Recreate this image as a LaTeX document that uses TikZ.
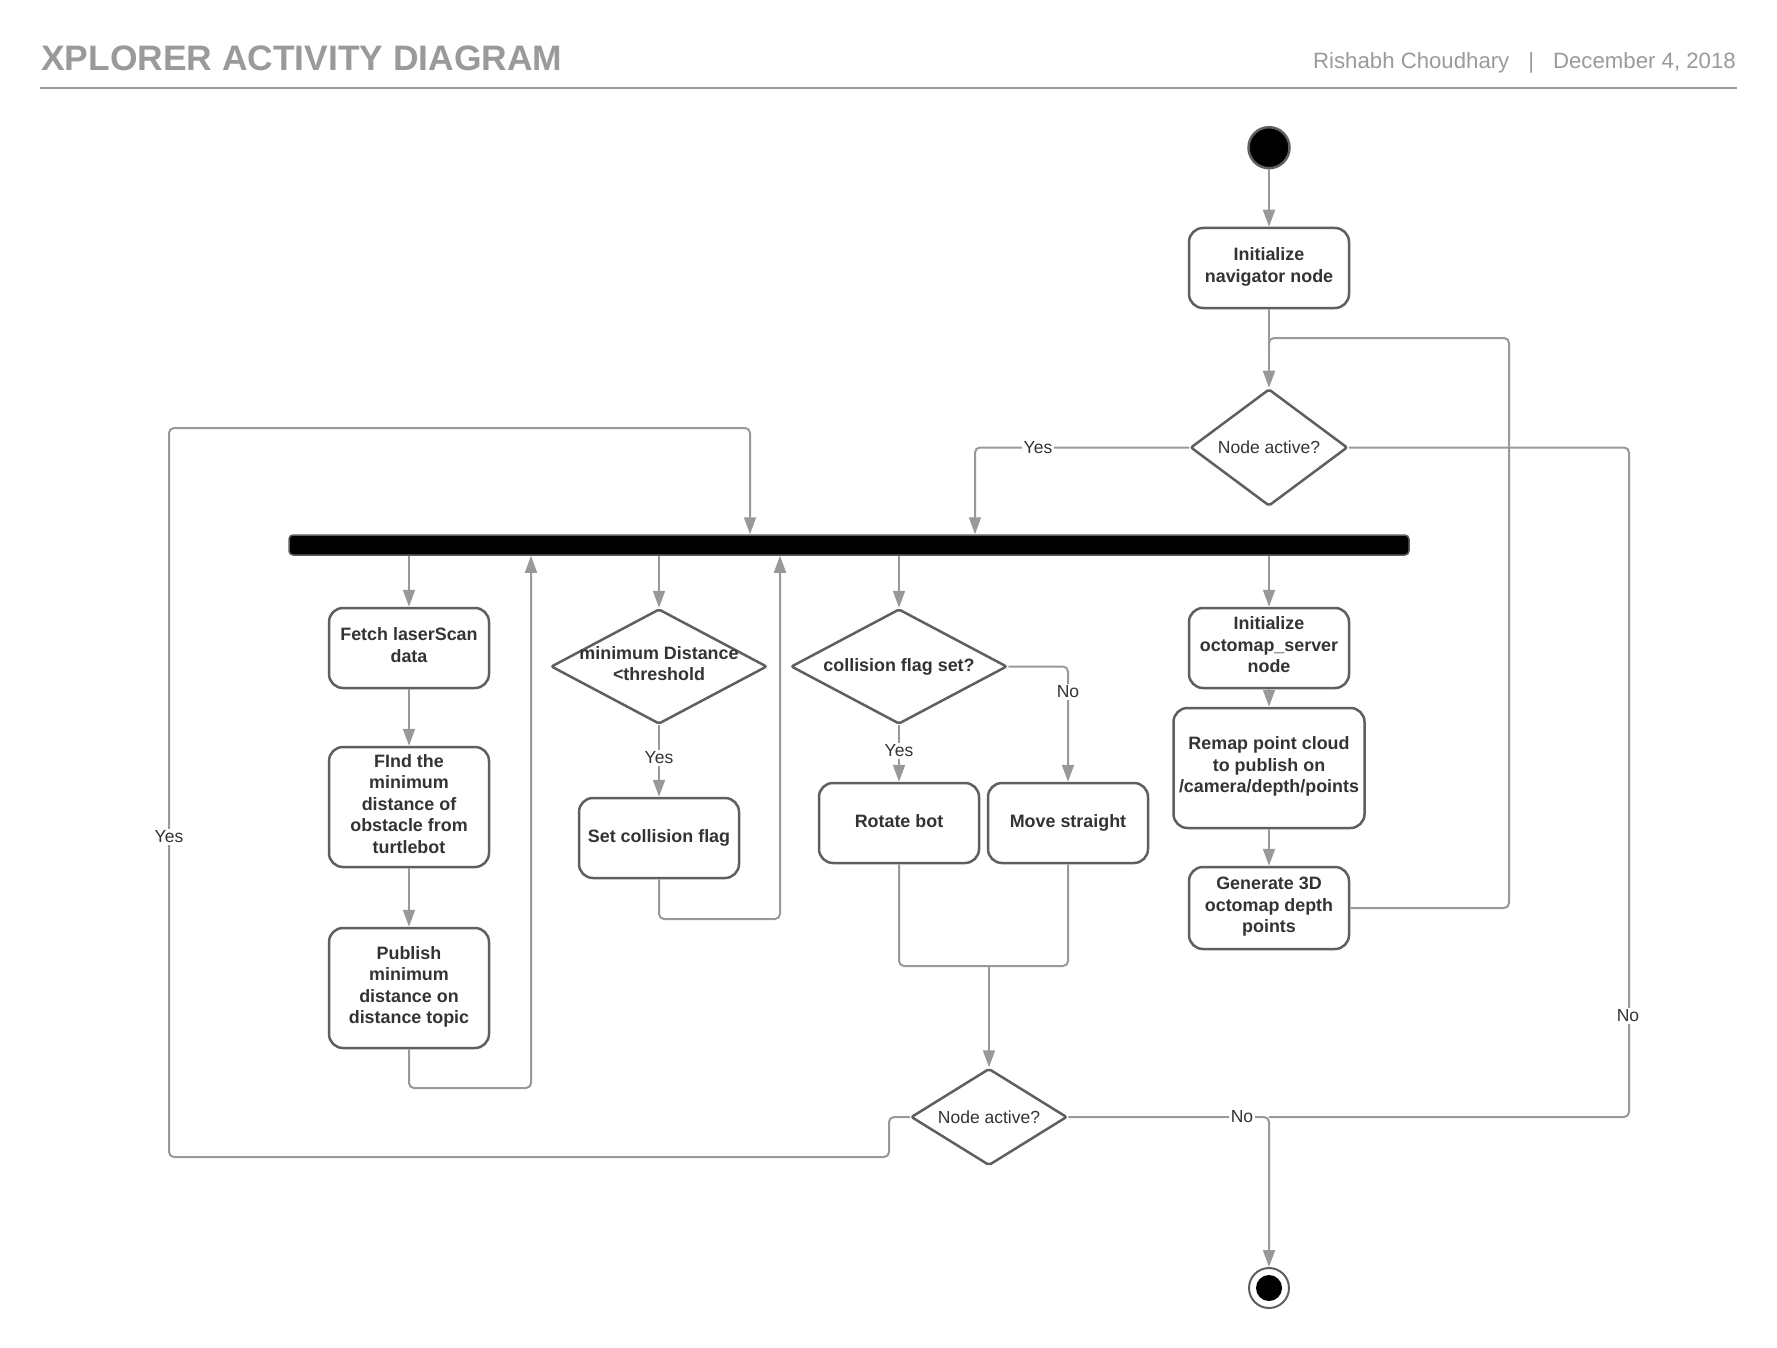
\documentclass[tikz,border=0pt]{standalone}
\usepackage{fontspec}
\setmainfont{Liberation Sans}
\usetikzlibrary{shapes.geometric,arrows.meta}
\definecolor{linegray}{HTML}{999999}
\definecolor{boxgray}{HTML}{5F5F5F}
\definecolor{txtgray}{HTML}{333333}
\definecolor{headgray}{HTML}{9A9A9A}
\begin{document}
\begin{tikzpicture}[x=1pt,y=-1pt,
  every node/.style={text=txtgray},
  boldtext/.style={font=\fontsize{17.9}{21.5}\selectfont\bfseries},
  plaintext/.style={font=\fontsize{17.5}{21.5}\selectfont},
  activity/.style={draw=boxgray, line width=2.5pt, rounded corners=14pt, fill=white,
    minimum width=160pt, minimum height=80pt, align=center, inner sep=2pt, boldtext,
    execute at end node=\strut},
  decision/.style={diamond, draw=boxgray, line width=2.5pt, fill=white, inner sep=0pt,
    rounded corners=2pt},
  dlabel/.style={align=center, inner sep=0pt},
  conn/.style={draw=linegray, line width=2pt, rounded corners=5pt},
  arr/.style={conn, -{Triangle[length=17pt,width=12pt]}},
  guard/.style={fill=white, inner sep=1.5pt, plaintext},
]
\useasboundingbox (0,0) rectangle (1777,1348);

% header
\node[anchor=base west, text=headgray, inner sep=0pt,
  font=\fontsize{35.4}{42}\selectfont\bfseries] (title) at (41,71) {XPLORER ACTIVITY DIAGRAM};
\node[anchor=base east, text=headgray, inner sep=0pt,
  font=\fontsize{22.2}{26}\selectfont] (byline) at (1736,68.5)
  {Rishabh Choudhary\hspace{19pt}|\hspace{19pt}December 4, 2018};
\draw[headgray, line width=2pt] (40,88) -- (1737,88);

% initial part
\node[circle, fill=black, draw=boxgray, line width=2.5pt, minimum size=41pt, inner sep=0pt]
  (start) at (1269,147.7) {};
\node[activity] (init) at (1269,268) {Initialize\\navigator node};
\node[decision, minimum width=157pt, minimum height=117pt] (d1) at (1269,447.5) {};
\node[dlabel, plaintext] (d1t) at (d1.center) {Node active?};

% fork bar
\node[draw=boxgray, fill=black, rounded corners=4pt, line width=1.5pt,
  minimum width=1120pt, minimum height=20pt, inner sep=0pt] (bar) at (849,545) {};

% laser scan branch
\node[activity] (fetch) at (409,648) {Fetch laserScan\\data};
\node[activity, minimum height=120pt] (find) at (409,807)
  {FInd the\\minimum\\distance of\\obstacle from\\turtlebot};
\node[activity, minimum height=120pt] (publish) at (409,988)
  {Publish\\minimum\\distance on\\distance topic};

% threshold branch
\node[decision, minimum width=216pt, minimum height=115pt] (d2) at (659,666.5) {};
\node[dlabel, boldtext, execute at end node=\strut] (d2t) at (d2.center) {minimum Distance\\<threshold};
\node[activity] (setflag) at (659,838) {Set collision flag};

% motion branch
\node[decision, minimum width=216pt, minimum height=115pt] (d3) at (899,666.5) {};
\node[dlabel, boldtext] (d3t) at (d3.center) {collision flag set?};
\node[activity] (rotate) at (899,823) {Rotate bot};
\node[activity] (move) at (1068,823) {Move straight};
\node[decision, minimum width=156pt, minimum height=97pt] (d4) at (989,1117) {};
\node[dlabel, plaintext] (d4t) at (d4.center) {Node active?};

% octomap branch
\node[activity] (octo) at (1269,648) {Initialize\\octomap\_server\\node};
\node[activity, minimum width=191pt, minimum height=120pt] (remap) at (1269,768)
  {Remap point cloud\\to publish on\\/camera/depth/points};
\node[activity, minimum height=82pt] (gen) at (1269,908) {Generate 3D\\octomap depth\\points};

% final node
\node[circle, draw=boxgray, line width=2pt, fill=white, minimum size=40pt, inner sep=0pt]
  (stop) at (1269,1288) {};
\fill[black] (stop.center) circle[radius=13pt];

% routing points
\coordinate (loopTR) at (1509,338);
\coordinate (yesDrop) at (975,447.5);
\coordinate (noR) at (1629,447.5);
\coordinate (noRB) at (1629,1117);
\coordinate (merge) at (1269,1117);
\coordinate (retA) at (531,1088);
\coordinate (retB) at (780,919);
\coordinate (join) at (989,966);
\coordinate (l1) at (889,1117);
\coordinate (l2) at (889,1157);
\coordinate (l3) at (169,1157);
\coordinate (l4) at (169,428);
\coordinate (l5) at (750,428);

% connectors
\draw[arr] (start) -- (init);
\draw[arr] (init) -- (d1);
\draw[conn] (gen.east) -| (loopTR) -- (loopTR -| init.south) -- ++(0,12);
\draw[arr] (d1.west) -- (yesDrop) -- (yesDrop |- bar.north);
\draw[conn] (d1.east) -- (noR) -- (noRB) -- (merge);

\draw[arr] (bar.south -| fetch.north) -- (fetch.north);
\draw[arr] (fetch) -- (find);
\draw[arr] (find) -- (publish);
\draw[arr] (publish.south) |- (retA) -- (retA |- bar.south);

\draw[arr] (bar.south -| d2.north) -- (d2.north);
\draw[arr] (d2.south) -- (setflag.north);
\draw[arr] (setflag.south) |- (retB) -- (retB |- bar.south);

\draw[arr] (bar.south -| d3.north) -- (d3.north);
\draw[arr] (d3.south) -- (rotate.north);
\draw[arr] (d3.east) -| (move.north);
\draw[conn] (rotate.south) |- (join);
\draw[conn] (move.south) |- (join);
\draw[arr] (join) -- (d4.north);
\draw[arr] (d4.west) -- (l1) -- (l2) -- (l3) -- (l4) -- (l5) -- (l5 |- bar.north);
\draw[arr] (d4.east) -- (merge) -- (stop.north);

\draw[arr] (bar.south -| octo.north) -- (octo.north);
\draw[arr] (octo) -- (remap);
\draw[arr] (remap) -- (gen);

% guard labels
\node[guard] (y1) at (1038,447.5) {Yes};
\node[guard] (n1) at (1628,1016) {No};
\node[guard] (y2) at (659,758) {Yes};
\node[guard] (y3) at (899,751) {Yes};
\node[guard] (n3) at (1068,692) {No};
\node[guard] (y4) at (169,837) {Yes};
\node[guard] (n4) at (1242,1117) {No};
\end{tikzpicture}
\end{document}
